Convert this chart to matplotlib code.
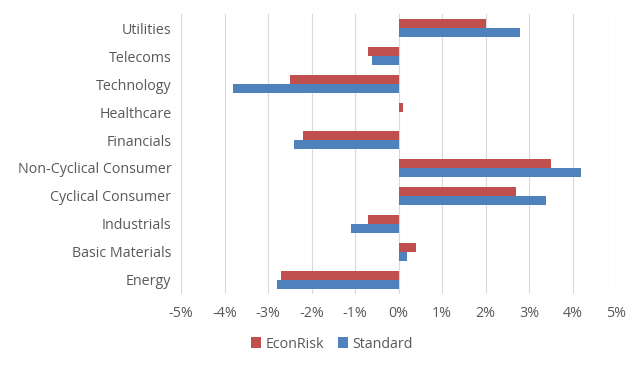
import matplotlib
matplotlib.use("Agg")
import matplotlib.pyplot as plt
import numpy as np
from matplotlib.ticker import FuncFormatter

categories = ["Utilities", "Telecoms", "Technology", "Healthcare", "Financials",
              "Non-Cyclical Consumer", "Cyclical Consumer", "Industrials",
              "Basic Materials", "Energy"]
econrisk = [2.0, -0.7, -2.5, 0.1, -2.2, 3.5, 2.7, -0.7, 0.4, -2.7]
standard = [2.8, -0.6, -3.8, 0.0, -2.4, 4.2, 3.4, -1.1, 0.2, -2.8]
xticks = [-5, -4, -3, -2, -1, 0, 1, 2, 3, 4, 5]

plt.rcParams['font.family'] = ['Open Sans', 'DejaVu Sans']
fig = plt.figure(figsize=(6.4, 3.72), dpi=100)
ax = fig.add_axes([0.283, 0.21, 0.6795, 0.752])

y = np.arange(len(categories))
h = 0.32
ax.barh(y - h/2, econrisk, height=h, color="#C0504D", label="EconRisk", zorder=3)
ax.barh(y + h/2, standard, height=h, color="#4F81BD", label="Standard", zorder=3)

ax.set_ylim(len(categories) - 0.5, -0.5)
ax.set_xlim(-5, 5)
ax.set_xticks(xticks)
ax.xaxis.set_major_formatter(FuncFormatter(lambda v, p: f"{v:.0f}%"))
ax.set_yticks(y)
ax.set_yticklabels(categories)
ax.grid(axis='x', color="#D9D9D9", linewidth=0.8, zorder=0)
for s in ax.spines.values():
    s.set_visible(False)
ax.tick_params(axis='both', length=0, colors="#595959", labelsize=10.3)
ax.tick_params(axis='x', pad=9)
ax.tick_params(axis='y', pad=7)

fig.legend(loc='center', bbox_to_anchor=(332/640, 1 - 344/372), ncol=2, frameon=False,
           fontsize=10.3, handlelength=0.7, handleheight=0.7, handletextpad=0.3,
           columnspacing=1.0, labelcolor="#595959")

fig.savefig("out.png", dpi=100)
